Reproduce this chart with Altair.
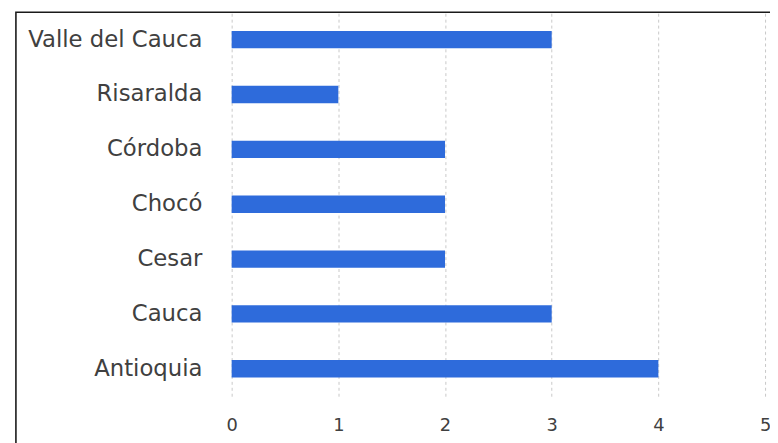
import altair as alt
import pandas as pd

departments = ["Valle del Cauca", "Risaralda", "Córdoba", "Chocó", "Cesar", "Cauca", "Antioquia"]
counts = [3, 1, 2, 2, 2, 3, 4]
x_ticks = [0, 1, 2, 3, 4, 5]

df = pd.DataFrame({"dep": departments, "n": counts})

FONT = "DejaVu Sans"
TXT = "#404040"

bars = alt.Chart(df).mark_bar(size=17.5, color="#2E6BDB").encode(
    x=alt.X(
        "n:Q",
        scale=alt.Scale(domain=[0, 5], nice=False, zero=True),
        axis=alt.Axis(
            values=x_ticks,
            title=None,
            grid=True,
            gridColor="#c8c8c8",
            gridDash=[3, 3],
            gridWidth=1,
            ticks=False,
            domain=False,
            labelFont=FONT,
            labelFontSize=18,
            labelColor=TXT,
            labelPadding=21,
            labelBaseline="top",
            labelFlush=False,
            labelOverlap=False,
            format="d",
        ),
    ),
    y=alt.Y(
        "dep:N",
        sort=departments,
        axis=alt.Axis(
            title=None,
            ticks=False,
            domain=False,
            grid=False,
            labelFont=FONT,
            labelFontSize=23,
            labelColor=TXT,
            labelPadding=30,
            labelLimit=400,
        ),
    ),
)

frame = alt.Chart(alt.Data(values=[{"k": 1}])).mark_rect(
    filled=False, stroke="#1a1a1a", strokeWidth=1.6, clip=False
).encode(
    x=alt.value(-218),
    x2=alt.value(560),
    y=alt.value(0),
    y2=alt.value(450),
)

chart = alt.layer(bars, frame).properties(
    width=539,
    height=388,
    autosize=alt.AutoSizeParams(type="none"),
    padding={"left": 226, "top": 2, "right": 5, "bottom": 45},
    background="white",
).configure_view(stroke=None)

chart.save("out.html", embed_options={"renderer": "svg", "actions": False})
